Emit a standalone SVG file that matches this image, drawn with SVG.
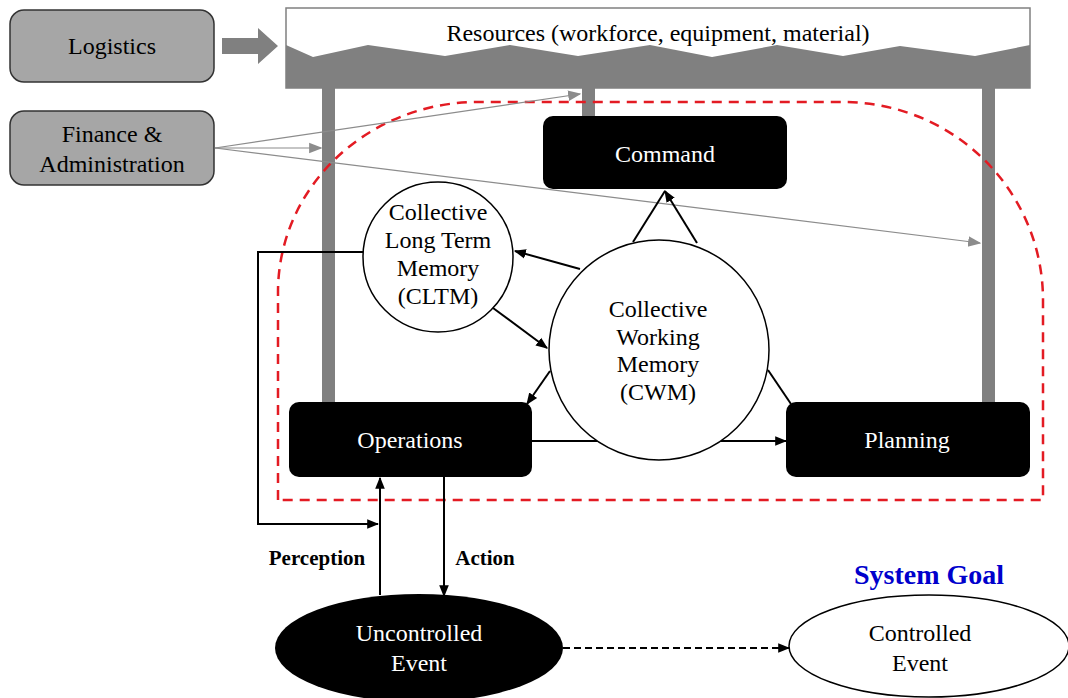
<svg xmlns="http://www.w3.org/2000/svg" width="1068" height="698" viewBox="0 0 1068 698" font-family="'Liberation Serif', 'Times New Roman', serif">
<style>
text{font-family:'Liberation Serif','Times New Roman',serif;font-weight:normal}
.t{font-size:24px;text-anchor:middle;fill:#000}
.w{fill:#fff}
.b{font-weight:bold;font-size:21px}
.box{fill:#000}
.side{fill:#a6a6a6;stroke:#333;stroke-width:1.5}
.pil{fill:#808080}
.ln{stroke:#000;stroke-width:2;fill:none}
.gl{stroke:#8c8c8c;stroke-width:1.2;fill:none}
</style>
<defs>
<marker id="ah" viewBox="0 0 10 10" refX="9" refY="5" markerWidth="6" markerHeight="6" orient="auto" markerUnits="strokeWidth"><path d="M0,1 L10,5 L0,9 z" fill="#000"/></marker>
<marker id="gh" viewBox="0 0 10 10" refX="9" refY="5" markerWidth="11" markerHeight="11" orient="auto" markerUnits="strokeWidth"><path d="M0,1 L10,5 L0,9 z" fill="#8c8c8c"/></marker>
</defs>

<g id="resources">
<rect x="286" y="8" width="744" height="80" fill="#fff" stroke="#808080" stroke-width="1.5"/>
<path class="pil" d="M286,45 L313,57 L368,45 L445,56 L510,45 L578,56 L650,45 L712,57 L777,45 L843,56 L900,46 L975,56 L1030,45 L1030,88 L286,88 Z"/>
<text class="t" x="658" y="41">Resources (workforce, equipment, material)</text>
<rect class="pil" x="322" y="88" width="13" height="314"/>
<rect class="pil" x="582" y="88" width="13" height="28"/>
<rect class="pil" x="982" y="88" width="13" height="314"/>
</g>

<g id="logistics">
<rect class="side" x="10" y="10" width="204" height="72" rx="14"/>
<text class="t" x="112" y="54">Logistics</text>
</g>
<g id="logistics-arrow">
<path class="pil" d="M222,38 L258,38 L258,28 L278,46 L258,64 L258,54 L222,54 Z"/>
</g>

<g id="finance">
<rect class="side" x="10" y="111" width="204" height="74" rx="14"/>
<text class="t" x="112" y="142">Finance &amp;</text>
<text class="t" x="112" y="172">Administration</text>
</g>

<g id="boundary">
<path d="M278,500 L278,292 A200,190 0 0 1 478,102 L843,102 A200,198 0 0 1 1043,300 L1043,500 Z" fill="none" stroke="#e31b23" stroke-width="2.5" stroke-dasharray="10,7"/>
</g>

<g id="connectors">
<line class="gl" x1="215" y1="148" x2="580" y2="94" marker-end="url(#gh)"/>
<line class="gl" x1="215" y1="148" x2="321" y2="148" marker-end="url(#gh)"/>
<line class="gl" x1="215" y1="148" x2="980" y2="243" marker-end="url(#gh)"/>
<line class="ln" x1="633" y1="242" x2="665" y2="191"/>
<line class="ln" x1="697" y1="243" x2="665" y2="191" marker-end="url(#ah)"/>
<line class="ln" x1="580" y1="269" x2="515" y2="251" marker-end="url(#ah)"/>
<line class="ln" x1="493" y1="308" x2="547" y2="348" marker-end="url(#ah)"/>
<line class="ln" x1="550" y1="371" x2="527" y2="404" marker-end="url(#ah)"/>
<line class="ln" x1="532" y1="441" x2="786" y2="441" marker-end="url(#ah)"/>
<line class="ln" x1="768" y1="370" x2="791" y2="404"/>
<polyline class="ln" points="363,252 258,252 258,524 378,524" marker-end="url(#ah)"/>
<line class="ln" x1="380" y1="595" x2="380" y2="478" marker-end="url(#ah)"/>
<line class="ln" x1="444" y1="477" x2="444" y2="596" marker-end="url(#ah)"/>
<line class="ln" x1="563" y1="648" x2="789" y2="648" stroke-dasharray="7,4" marker-end="url(#ah)"/>
</g>

<g id="command">
<rect class="box" x="543" y="116" width="244" height="73" rx="10"/>
<text class="t w" x="665" y="162">Command</text>
</g>

<g id="cltm">
<circle cx="438" cy="257" r="75" fill="#fff" stroke="#000" stroke-width="1.5"/>
<text class="t" x="438" y="220">Collective</text>
<text class="t" x="438" y="248">Long Term</text>
<text class="t" x="438" y="276">Memory</text>
<text class="t" x="438" y="304">(CLTM)</text>
</g>

<g id="cwm">
<circle cx="659" cy="350" r="110" fill="#fff" stroke="#000" stroke-width="1.5"/>
<text class="t" x="658" y="317">Collective</text>
<text class="t" x="658" y="345">Working</text>
<text class="t" x="658" y="372">Memory</text>
<text class="t" x="658" y="400">(CWM)</text>
</g>

<g id="operations">
<rect class="box" x="289" y="402" width="243" height="75" rx="10"/>
<text class="t w" x="410" y="448">Operations</text>
</g>

<g id="planning">
<rect class="box" x="786" y="402" width="244" height="75" rx="10"/>
<text class="t w" x="907" y="448">Planning</text>
</g>

<g id="labels">
<text class="t b" x="317" y="565">Perception</text>
<text class="t b" x="485" y="565">Action</text>
<text class="t" x="929" y="584" style="font-weight:bold;font-size:28px;fill:#0000cc">System Goal</text>
</g>

<g id="uncontrolled">
<ellipse cx="419" cy="648" rx="144" ry="54" fill="#000"/>
<text class="t w" x="419" y="641">Uncontrolled</text>
<text class="t w" x="419" y="671">Event</text>
</g>

<g id="controlled">
<ellipse cx="929" cy="646" rx="140" ry="51" fill="#fff" stroke="#000" stroke-width="1.5"/>
<text class="t" x="920" y="641">Controlled</text>
<text class="t" x="920" y="671">Event</text>
</g>
</svg>
